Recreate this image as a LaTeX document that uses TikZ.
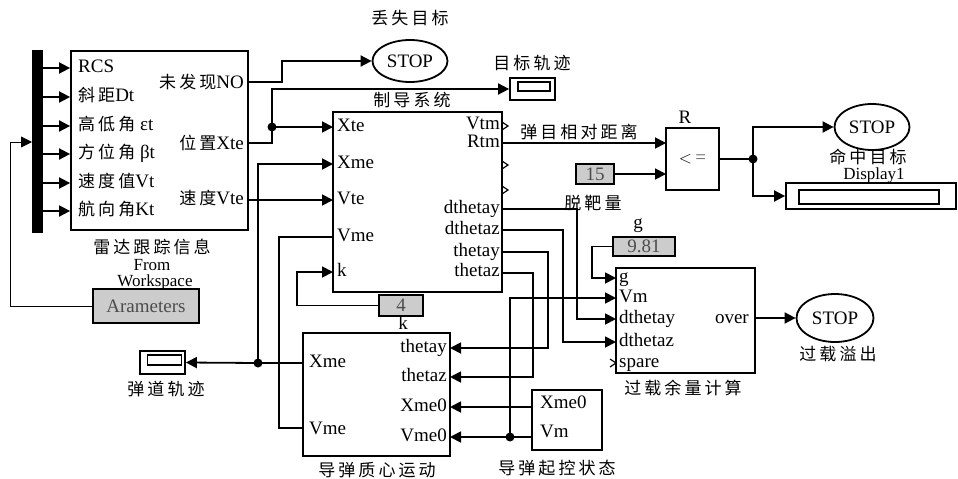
\documentclass[tikz,border=0pt]{standalone}
\usepackage{fontspec}
\setmainfont{Liberation Serif}
\newfontfamily\cjk[LetterSpace=18]{Noto Sans CJK SC}
\usetikzlibrary{arrows.meta,shapes.geometric}
\newcommand\zh[1]{{\fontsize{17}{17}\cjk #1}}
\begin{document}
\begin{tikzpicture}[x=1pt,y=-1pt,
  wire/.style={line width=1.8pt},
  thinwire/.style={line width=0.9pt},
  arr/.style={-{Triangle[length=11pt,width=11pt]}},
  box/.style={draw,line width=1.8pt,inner sep=0pt},
  constbox/.style={draw,line width=1.8pt,fill=black!20,inner sep=0pt,font=\fontsize{19}{19}\selectfont,text=black!70},
  lbl/.style={inner sep=0pt,font=\fontsize{19}{19}\selectfont,text height=13pt,text depth=4pt},
  smalllbl/.style={inner sep=0pt,font=\fontsize{17}{17}\selectfont},
  zhl/.style={inner sep=0pt,font=\fontsize{17}{17}\cjk},
  stopn/.style={ellipse,draw,line width=1.8pt,inner sep=0pt,font=\fontsize{19}{19}\selectfont},
  jdot/.style={circle,fill,inner sep=0pt,minimum size=9pt},
  chev/.style={line width=1.2pt},
]
\useasboundingbox (0,0) rectangle (958,479);

% ---------- blocks ----------
\node[box,minimum width=177pt,minimum height=179pt] (radar) at (159.5,140.5) {};
\node[fill=black,inner sep=0pt,minimum width=11pt,minimum height=183pt] (bar) at (37.5,141.5) {};
\node[constbox,minimum width=106pt,minimum height=34pt] (param) at (146,306) {Arameters};
\node[stopn,minimum width=75pt,minimum height=42pt] (stop1) at (410,61) {STOP};
\node[box,minimum width=45pt,minimum height=22pt] (scope1) at (532.5,89) {};
\node[draw,line width=1.5pt,inner sep=0pt,minimum width=32pt,minimum height=9pt] (scope1i) at (534,86.5) {};
\node[box,minimum width=169pt,minimum height=180pt] (guid) at (417.5,202) {};
\node[box,minimum width=53pt,minimum height=62pt,font=\fontsize{19}{19}\selectfont] (rel) at (692.5,159) {$<$\,{\color{black!60}=}};
\node[constbox,minimum width=38pt,minimum height=20pt] (c15) at (595,174) {15};
\node[stopn,minimum width=75pt,minimum height=46pt] (stop2) at (872,127) {STOP};
\node[box,minimum width=170pt,minimum height=26pt] (disp) at (871,196) {};
\node[draw,line width=1.2pt,inner sep=0pt,minimum width=140pt,minimum height=14pt] (dispi) at (869,197) {};
\node[constbox,minimum width=44pt,minimum height=21pt] (c4) at (401,305.5) {4};
\node[box,minimum width=147pt,minimum height=123pt] (miss) at (376.5,394.5) {};
\node[box,minimum width=70pt,minimum height=60pt] (init) at (567,420) {};
\node[box,minimum width=139pt,minimum height=105pt] (over) at (685.5,320.5) {};
\node[constbox,minimum width=62pt,minimum height=19pt] (c981) at (644,246.5) {9.81};
\node[stopn,minimum width=77pt,minimum height=48pt] (stop3) at (835,318) {STOP};
\node[box,minimum width=45pt,minimum height=23pt] (scope2) at (162.5,362.5) {};
\node[draw,line width=1.5pt,inner sep=0pt,minimum width=34pt,minimum height=10pt] (scope2i) at (164.5,360) {};

% ---------- ports ----------
\coordinate (rNO) at (248,82);
\coordinate (rXte) at (248,143);
\coordinate (rVte) at (248,200);
\coordinate (gXte) at (333,127);
\coordinate (gXme) at (333,164);
\coordinate (gVte) at (333,200);
\coordinate (gVme) at (333,237);
\coordinate (gk) at (333,272);
\coordinate (gRtm) at (502,143);
\coordinate (gDy) at (502,209);
\coordinate (gDz) at (502,230);
\coordinate (gTy) at (502,252);
\coordinate (gTz) at (502,273);
\coordinate (relA) at (666,143);
\coordinate (relB) at (666,174);
\coordinate (mXme) at (303,363);
\coordinate (mVme) at (303,428);
\coordinate (mTy) at (450,348);
\coordinate (mTz) at (450,377);
\coordinate (mX0) at (450,407);
\coordinate (mV0) at (450,437);
\coordinate (iX0) at (532,407);
\coordinate (iVm) at (532,437);
\coordinate (oG) at (616,278);
\coordinate (oVm) at (616,298);
\coordinate (oDy) at (616,319);
\coordinate (oDz) at (616,342);
\coordinate (oOut) at (755,318);
\coordinate (barin) at (32,142);

\node[jdot] (d1) at (272,127) {};
\node[jdot] (d2) at (258,363) {};
\node[jdot] (d3) at (753,159) {};
\node[jdot] (d4) at (510,437) {};

% ---------- wires ----------
\draw[thinwire,arr] (param.west) -| (10,142) -- (barin);
\foreach \y in {68,97,126,154,183,211}
  \draw[wire,arr] (bar.east |- 0,\y) -- (radar.west |- 0,\y);
\draw[wire,arr] (rNO) -- (282,82) |- (stop1.west);
\draw[wire] (rXte) -| (d1.center);
\draw[wire,arr] (d1.center) -- (gXte);
\draw[wire,arr] (d1.center) |- (scope1.west);
\draw[wire,arr] (rVte) -- (gVte);
\draw[wire] (mXme) -- (d2.center);
\draw[wire,arr] (d2.center) -- (scope2.east);
\draw[wire,arr] (d2.center) |- (gXme);
\draw[wire] (mVme) -- (279,428) |- (gVme);
\draw[wire,arr] (c4.west) -- (297,305.5) |- (gk);
\draw[wire,arr] (gRtm) -- (relA);
\draw[wire,arr] (c15.east) -- (relB);
\draw[wire] (rel.east) -- (d3.center);
\draw[wire,arr] (d3.center) |- (stop2.west);
\draw[wire,arr] (d3.center) |- (disp.west);
\draw[wire,arr] (gDy) -- (577,209) |- (oDy);
\draw[wire,arr] (gDz) -- (563,230) |- (oDz);
\draw[wire,arr] (gTy) -- (548,252) |- (mTy);
\draw[wire,arr] (gTz) -- (533,273) |- (mTz);
\draw[wire,arr] (iX0) -- (mX0);
\draw[wire] (iVm) -- (d4.center);
\draw[wire,arr] (d4.center) -- (mV0);
\draw[wire,arr] (d4.center) |- (oVm);
\draw[wire,arr] (c981.west) -- (592,246.5) |- (oG);
\draw[wire,arr] (oOut) -- (stop3.west);

% unconnected port markers
\draw[chev] (502,122) -- (508,126) -- (502,130);
\draw[chev] (502,161) -- (508,165) -- (502,169);
\draw[chev] (502,186) -- (508,190) -- (502,194);
\draw[chev] (610,359) -- (616,363) -- (610,367);

% ---------- labels: radar block ----------
\node[lbl,anchor=west] (rl1) at (78,68) {RCS};
\node[lbl,anchor=west] (rl2) at (78,97) {\zh{斜距}Dt};
\node[lbl,anchor=west] (rl3) at (78,126) {\zh{高低角} εt};
\node[lbl,anchor=west] (rl4) at (78,154) {\zh{方位角} βt};
\node[lbl,anchor=west] (rl5) at (78,183) {\zh{速度值}Vt};
\node[lbl,anchor=west] (rl6) at (78,211) {\zh{航向角}Kt};
\node[lbl,anchor=east] (rr1) at (244,84) {\zh{未发现}NO};
\node[lbl,anchor=east] (rr2) at (244,145) {\zh{位置}Xte};
\node[lbl,anchor=east] (rr3) at (244,200) {\zh{速度}Vte};

% ---------- labels: guidance ----------
\node[lbl,anchor=west] (gl1) at (337,127) {Xte};
\node[lbl,anchor=west] (gl2) at (337,164) {Xme};
\node[lbl,anchor=west] (gl3) at (337,200) {Vte};
\node[lbl,anchor=west] (gl4) at (337,237) {Vme};
\node[lbl,anchor=west] (gl5) at (337,272) {k};
\node[lbl,anchor=east] (gr1) at (500,125) {Vtm};
\node[lbl,anchor=east] (gr2) at (500,143) {Rtm};
\node[lbl,anchor=east] (gr3) at (500,209) {dthetay};
\node[lbl,anchor=east] (gr4) at (500,230) {dthetaz};
\node[lbl,anchor=east] (gr5) at (500,252) {thetay};
\node[lbl,anchor=east] (gr6) at (500,272) {thetaz};

% ---------- labels: missile ----------
\node[lbl,anchor=west] (ml1) at (309,363) {Xme};
\node[lbl,anchor=west] (ml2) at (309,430) {Vme};
\node[lbl,anchor=east] (mr1) at (447,348) {thetay};
\node[lbl,anchor=east] (mr2) at (447,377) {thetaz};
\node[lbl,anchor=east] (mr3) at (447,407) {Xme0};
\node[lbl,anchor=east] (mr4) at (447,437) {Vme0};
\node[lbl,anchor=west] (il1) at (540,404) {Xme0};
\node[lbl,anchor=west] (il2) at (540,433) {Vm};

% ---------- labels: overload ----------
\node[lbl,anchor=west] (ol1) at (619,278) {g};
\node[lbl,anchor=west] (ol2) at (619,298) {Vm};
\node[lbl,anchor=west] (ol3) at (619,319) {dthetay};
\node[lbl,anchor=west] (ol4) at (619,342) {dthetaz};
\node[lbl,anchor=west] (ol5) at (619,363) {spare};
\node[lbl,anchor=east] (or1) at (749,319) {over};

% ---------- titles ----------
\node[zhl] (t1) at (410,18) {丢失目标};
\node[zhl] (t2) at (532,63) {目标轨迹};
\node[zhl] (t3) at (412,100) {制导系统};
\node[zhl] (t4) at (579,132) {弹目相对距离};
\node[lbl] (t5) at (685,119) {R};
\node[zhl] (t6) at (593,203) {脱靶量};
\node[zhl] (t7) at (868,157) {命中目标};
\node[smalllbl] (t8) at (874,175.5) {Display1};
\node[lbl] (t9) at (638,224) {g};
\node[zhl] (t10) at (838,354) {过载溢出};
\node[zhl] (t11) at (683,388) {过载余量计算};
\node[zhl] (t12) at (152,247) {雷达跟踪信息};
\node[smalllbl] (t13) at (152,265.5) {From};
\node[smalllbl] (t14) at (155,282) {Workspace};
\node[zhl] (t15) at (166,389) {弹道轨迹};
\node[lbl] (t16) at (403,325) {k};
\node[zhl] (t17) at (377,470) {导弹质心运动};
\node[zhl] (t18) at (557,468) {导弹起控状态};
\end{tikzpicture}
\end{document}
